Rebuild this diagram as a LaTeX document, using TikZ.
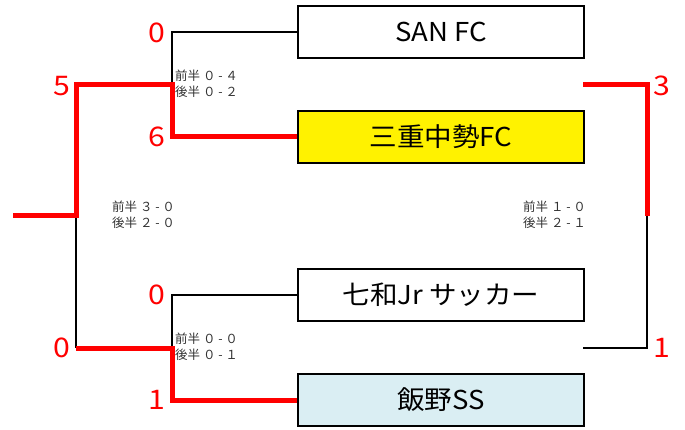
\documentclass[tikz,border=0pt]{standalone}
\usepackage{fontspec}
\setmainfont{Noto Sans CJK JP}
\newfontfamily\widefont{Noto Sans CJK JP}[FakeStretch=1.06]
\newfontfamily\scorefont{Noto Sans CJK JP}[FakeStretch=1.12]
\definecolor{lblue}{HTML}{DAEEF3}
\tikzset{
  team/.style={draw=black,line width=2pt,minimum width=286pt,minimum height=52pt,inner sep=0pt,font=\widefont\fontsize{26}{26}\selectfont},
  loser/.style={draw=black,line width=1.6pt,line join=miter},
  winner/.style={draw=red,line width=5pt,line join=miter},
  score/.style={text=red,inner sep=0pt,font=\scorefont\fontsize{27}{27}\selectfont},
  half/.style={align=left,inner sep=0pt,anchor=west,text=black!80,font=\fontsize{12.5}{16}\selectfont}
}
\begin{document}
\begin{tikzpicture}[x=1pt,y=-1pt]
\useasboundingbox (0,0) rectangle (685,430);
% teams
\node[team] (san) at (441,32) {SAN FC};
\node[team,fill=yellow] (mie) at (441,137) {三重中勢FC};
\node[team] (nana) at (441,295) {七和Jr サッカー};
\node[team,fill=lblue] (iino) at (441,400) {飯野SS};
% junctions
\coordinate (j1) at (172,85);
\coordinate (j2) at (172,348);
\coordinate (f1) at (76,85);
\coordinate (f2) at (76,348);
\coordinate (fm) at (76,216);
\coordinate (champ) at (13,216);
\coordinate (r1) at (647,85);
\coordinate (r1s) at (583,85);
\coordinate (r2) at (647,348);
\coordinate (r2s) at (583,348);
\coordinate (rm) at (647,216);
% losing lines
\draw[loser] (san.west) -| (j1);
\draw[loser] (nana.west) -| (j2);
\draw[loser] (fm) -- (f2);
\draw[loser] (rm) -- (r2) -- (r2s);
% winning lines
\draw[winner] (mie.west) -| (j1) -- (f1) -- (fm) -- (champ);
\draw[winner] (f2) -- (j2) |- (iino.west);
\draw[winner] (r1s) -- (r1) -- (rm);
% scores
\node[score] (s1) at (157,33) {0};
\node[score] (s2) at (157,137) {6};
\node[score] (s3) at (157,295) {0};
\node[score] (s4) at (157,400) {1};
\node[score] (s5) at (62,86) {5};
\node[score] (s6) at (62,348) {0};
\node[score] (s7) at (662,86) {3};
\node[score] (s8) at (662,348) {1};
% half-time scores
\node[half] (h1) at (175,84) {前半 ０ - ４\\後半 ０ - ２};
\node[half] (h2) at (112,215) {前半 ３ - ０\\後半 ２ - ０};
\node[half] (h3) at (523,215) {前半 １ - ０\\後半 ２ - １};
\node[half] (h4) at (175,347) {前半 ０ - ０\\後半 ０ - １};
\end{tikzpicture}
\end{document}
